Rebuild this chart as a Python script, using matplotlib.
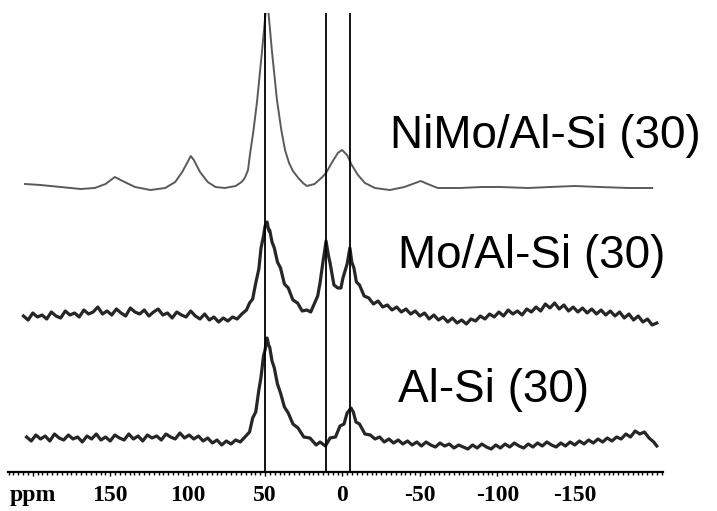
import matplotlib
matplotlib.use("Agg")
import matplotlib.pyplot as plt
from matplotlib.ticker import MultipleLocator, FixedLocator

# ---- data (ppm, intensity in arbitrary offset units) ----
tick_pos = [200, 150, 100, 50, 0, -50, -100, -150]
tick_lbl = ["ppm", "150", "100", "50", "0", "-50", "-100", "-150"]
ref_lines = [50, 10.6, -4.8]

nimo_ppm = [205, 195, 182, 169, 160, 153, 147, 142, 134, 124, 114.5, 108, 103.5, 100, 98, 96, 92, 87, 82,
            76, 69, 66.1, 64.5, 62.8, 61, 59.7, 57.6, 55.2, 52, 48.7, 45.5, 42.3, 39.5, 37.1, 34.5, 32, 28.5,
            25.5, 23, 18, 13, 10.6, 7, 3, 0.3,
            -3, -6, -10, -14.5, -21, -30.6, -40, -47, -50.6, -55, -61.6, -75.8, -90, -101.6, -120, -133.9,
            -150, -166, -185, -200]
nimo_y = [288, 287, 285, 283, 284, 288, 295, 291, 285, 282, 284, 290, 300, 310, 316, 312, 300, 290, 285,
          284, 286, 289, 291, 295, 302, 318, 340, 370, 420, 475, 420, 372, 342, 322, 309, 301, 294,
          289, 286, 288, 295, 299, 309, 319, 322,
          317, 307, 297, 289, 284, 282, 285, 289, 291, 288, 284, 284, 285, 285, 284, 285,
          286, 285, 284, 284]

mo_ppm = [206, 203, 200, 197, 194, 191, 188, 185, 182, 179, 176, 173, 170, 167, 164, 161, 158, 155, 152,
          149, 146, 143, 140, 137, 134, 131, 128, 125, 122, 119, 116, 113, 110, 107, 104, 101, 98, 95, 92,
          89, 86, 83, 80, 77, 74, 71, 68, 65, 62,
          60, 58, 56, 54, 52.6, 51, 50, 48.7, 47.5, 47, 45.5, 44, 42, 40, 37.5, 35, 32, 29, 26, 23, 20.5,
          18, 16, 14.5, 12.6, 10.6, 9, 8, 5.5, 3, 1, -0.3, -3, -4.8, -6, -7.4, -9, -11, -14,
          -17, -20, -23, -26, -29, -32, -35, -38, -41, -44, -47, -50, -53, -56, -59, -62, -65, -68, -71,
          -74, -77, -80, -83, -86, -89, -92, -95, -98, -101, -104, -107, -110, -113, -116, -119, -122,
          -125, -128, -131, -134, -137, -140, -143, -146, -149, -152, -155, -158, -161, -164, -167, -170,
          -173, -176, -179, -182, -185, -188, -191, -194, -197, -200, -203]
mo_y = [156, 152, 159, 155, 157, 153, 160, 156, 154, 161, 157, 159, 155, 162, 158, 160, 165, 158, 161,
        157, 163, 159, 156, 164, 160, 158, 162, 156, 160, 163, 157, 159, 154, 160, 157, 155, 161, 156, 153,
        158, 152, 155, 150, 154, 151, 155, 153, 158, 162,
        169, 173, 189, 203, 224, 236, 246, 250, 241, 242, 230, 224, 210, 204, 188, 184, 172, 169, 161, 162, 160,
        169, 176, 189, 210, 231, 216, 209, 187, 184, 184, 194, 208, 224, 210, 204, 190, 187, 176,
        174, 168, 171, 165, 167, 162, 165, 160, 163, 158, 161, 156, 159, 153, 157, 152, 155, 150, 154,
        149, 152, 148, 153, 151, 156, 153, 158, 155, 160, 156, 162, 158, 161, 157, 163, 160,
        165, 161, 168, 164, 169, 163, 167, 161, 165, 160, 164, 159, 163, 158, 162, 157,
        161, 156, 160, 154, 158, 152, 156, 150, 153, 147, 149]

alsi_ppm = [204, 201, 198, 195, 192, 189, 186, 183, 180, 177, 174, 171, 168, 165, 162, 159, 156, 153, 150,
            147, 144, 141, 138, 135, 132, 129, 126, 123, 120, 117, 114, 111, 108, 105, 102, 99, 96, 93, 90,
            87, 84, 81, 78, 75, 72, 69, 66, 63,
            60, 58, 56, 54, 52.6, 51, 50, 48.7, 47.5, 47, 45.5, 44, 42, 40, 37.5, 35, 32, 28.7, 25, 21,
            17, 14.5, 11, 8, 4.5, 1.6, -1, -3, -5.5, -7, -8.7, -11, -14.5,
            -18, -21, -24, -27, -30, -33, -36, -39, -42, -45, -48, -51, -54, -57, -60, -63, -66, -69, -72,
            -75, -78, -81, -84, -87, -90, -93, -96, -99, -102, -105, -108, -111, -114, -117, -120, -123,
            -126, -129, -132, -135, -138, -141, -144, -147, -150, -153, -156, -159, -162, -165, -168, -171,
            -174, -177, -180, -183, -186, -189, -192, -195, -198, -201, -203]
alsi_y = [35, 31, 37, 33, 36, 31, 38, 34, 32, 37, 33, 35, 30, 36, 33, 38, 32, 35, 31,
          37, 34, 32, 38, 33, 36, 31, 37, 34, 36, 32, 38, 35, 33, 39, 34, 37, 33, 36, 31,
          34, 29, 32, 27, 31, 28, 32, 30, 35,
          40, 54, 60, 82, 95, 116, 122, 134, 126, 125, 111, 104, 88, 79, 65, 59, 48, 44, 35, 34,
          27, 30, 26, 34, 35, 46, 48, 59, 64, 60, 50, 48, 38,
          37, 33, 35, 30, 33, 29, 32, 28, 31, 27, 30, 26, 30, 27, 25, 29, 26, 28, 24,
          27, 25, 23, 27, 24, 28, 25, 23, 27, 24, 28, 25, 29, 26, 24, 28, 25,
          29, 26, 30, 27, 25, 29, 26, 30, 27, 31, 28, 32, 29, 33, 30, 34,
          31, 35, 33, 38, 35, 41, 38, 40, 34, 30, 26]

labels = ["NiMo/Al-Si (30)", "Mo/Al-Si (30)", "Al-Si (30)"]
label_px = [(390, 148), (398, 268), (398, 402)]

# ---- figure ----
W, H = 717, 511
fig = plt.figure(figsize=(W / 100, H / 100), dpi=100)
ax = fig.add_axes([8 / W, (H - 472) / H, (663 - 8) / W, (472 - 13) / H])
ax.set_xlim(216, -207)
ax.set_ylim(0, 459)

ax.plot(nimo_ppm, nimo_y, color="#5a5a5a", lw=1.4)
ax.plot(mo_ppm, mo_y, color="#262626", lw=2.3)
ax.plot(alsi_ppm, alsi_y, color="#262626", lw=2.3)
for p in ref_lines:
    ax.axvline(p, color="black", lw=1.3)

for s in ["top", "right", "left"]:
    ax.spines[s].set_visible(False)
ax.spines["bottom"].set_linewidth(1.6)
ax.set_yticks([])
ax.xaxis.set_major_locator(FixedLocator(tick_pos))
ax.set_xticklabels(tick_lbl)
ax.xaxis.set_minor_locator(MultipleLocator(50 / 16))
ax.tick_params(axis="x", which="both", direction="out", length=2.5, width=1.0, pad=6)
ax.tick_params(axis="x", which="major", length=3)
for t in ax.get_xticklabels():
    t.set_fontfamily("Liberation Serif")
    t.set_fontweight("bold")
    t.set_fontsize(17)

for txt, (px, py) in zip(labels, label_px):
    fig.text(px / W, 1 - py / H, txt, fontsize=33, family="Liberation Sans",
             ha="left", va="baseline", color="black")

fig.savefig("out.png", dpi=100)
